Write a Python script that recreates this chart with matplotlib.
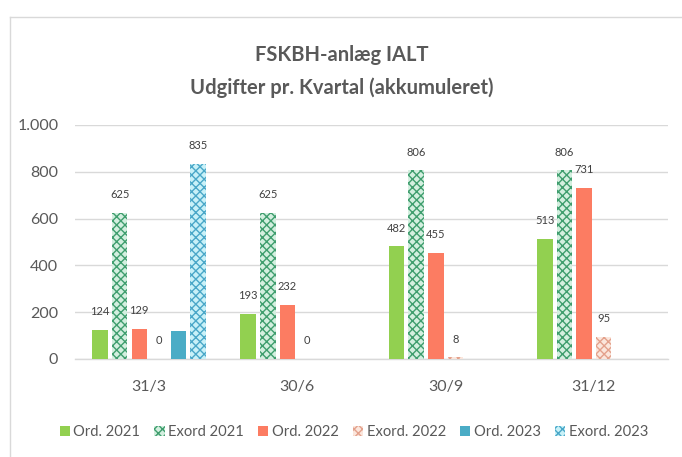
import matplotlib
matplotlib.use("Agg")
import matplotlib.pyplot as plt
from matplotlib import font_manager
from matplotlib.patches import Patch
from matplotlib.lines import Line2D
import numpy as np

categories = ["31/3", "30/6", "30/9", "31/12"]
series_names = ["Ord. 2021", "Exord 2021", "Ord. 2022", "Exord. 2022", "Ord. 2023", "Exord. 2023"]
ord_2021 = [124, 193, 482, 513]
exord_2021 = [625, 625, 806, 806]
ord_2022 = [129, 232, 455, 731]
exord_2022 = [0, 0, 8, 95]
ord_2023 = [120, np.nan, np.nan, np.nan]
exord_2023 = [835, np.nan, np.nan, np.nan]
yticks = [0, 200, 400, 600, 800, 1000]
ytick_labels = ["0", "200", "400", "600", "800", "1.000"]
title_lines = ["FSKBH-anlæg IALT", "Udgifter pr. Kvartal (akkumuleret)"]

names = {f.name for f in font_manager.fontManager.ttflist}
fam = "Lato" if "Lato" in names else "DejaVu Sans"
plt.rcParams['font.family'] = [fam, 'DejaVu Sans']
plt.rcParams['hatch.linewidth'] = 1.0

all_series = [ord_2021, exord_2021, ord_2022, exord_2022, ord_2023, exord_2023]
faces = ["#92D050", "#d3efdf", "#FC7C62", "#fbe6dc", "#4BACC6", "#c8f1f8"]
hatch_cols = [None, "#3f9e6e", None, "#e3a18c", None, "#4aa7c8"]
show_labels = [True, True, True, True, False, True]

W, H = 682, 457
fig = plt.figure(figsize=(W / 100, H / 100), dpi=100)
ax = fig.add_axes([75 / W, 1 - 359 / H, (668 - 75) / W, (359 - 125) / H])

pitch = 0.1325
width = 0.105
x = np.arange(len(categories))
txtc = "#404040"
for k, (vals, fc, hc, sl) in enumerate(zip(all_series, faces, hatch_cols, show_labels)):
    offs = (k - 2.5) * pitch
    if hc is None:
        ax.bar(x + offs, vals, width, color=fc, edgecolor="none", zorder=3)
    else:
        ax.bar(x + offs, vals, width, color=fc, edgecolor=hc, hatch="xxxx",
               linewidth=0, zorder=3)
    if sl:
        for xi, v in zip(x, vals):
            if np.isnan(v):
                continue
            ax.annotate(f"{int(v)}", (xi + offs, v), xytext=(0, 13), textcoords="offset points",
                        ha="center", va="center", fontsize=8, color=txtc)

ax.set_xlim(-0.5, 3.5)
ax.set_ylim(0, 1000)
ax.set_yticks(yticks)
ax.set_yticklabels(ytick_labels)
ax.set_xticks(x)
ax.set_xticklabels(categories)
ax.tick_params(axis="both", length=0, labelsize=11.5, colors="#595959")
ax.tick_params(axis="y", pad=12)
ax.tick_params(axis="x", pad=15)
ax.grid(axis="y", color="#d9d9d9", linewidth=1, zorder=0)
for s in ["top", "right", "left"]:
    ax.spines[s].set_visible(False)
ax.spines["bottom"].set_color("#d9d9d9")
ax.spines["bottom"].set_linewidth(1)
ax.set_axisbelow(True)

# chart border
fig.add_artist(Line2D([10 / W, 10 / W], [1 - 17 / H, 0], transform=fig.transFigure, color="#d9d9d9", lw=1))
fig.add_artist(Line2D([10 / W, 1], [1 - 17 / H, 1 - 17 / H], transform=fig.transFigure, color="#d9d9d9", lw=1))

fig.text(342 / W, 1 - 55 / H, title_lines[0], ha="center", va="center", fontsize=14.5,
         fontweight="bold", color="#595959")
fig.text(342 / W, 1 - 88 / H, title_lines[1], ha="center", va="center", fontsize=14.5,
         fontweight="bold", color="#595959")

handles = []
for fc, hc in zip(faces, hatch_cols):
    if hc is None:
        handles.append(Patch(facecolor=fc, edgecolor="none"))
    else:
        handles.append(Patch(facecolor=fc, edgecolor=hc, hatch="xxxx", linewidth=0))
leg = fig.legend(handles, series_names, loc="center", bbox_to_anchor=(354 / W, 1 - 432 / H),
                 ncol=6, frameon=False, fontsize=10.6, handlelength=0.7, handleheight=0.7,
                 handletextpad=0.25, columnspacing=0.95, labelcolor="#595959")

fig.savefig("out.png", dpi=100)
